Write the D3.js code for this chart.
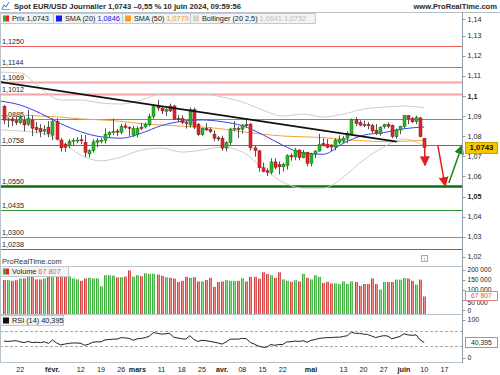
<!DOCTYPE html>
<html>
<head>
<meta charset="utf-8">
<script src="https://cdn.jsdelivr.net/npm/d3@7"></script>
<style>
  body { margin: 0; background: #fff; }
  svg { display: block; font-family: 'Liberation Sans', Arial, sans-serif; }
</style>
</head>
<body>
<div id="chart"></div>
<script>
// daily sessions, index 0 = 16 janv. 2024, index 104 = 10 juin 2024
const open = [
  1.0948, 1.0880, 1.0886, 1.0877, 1.0868, 1.0878, 1.0860, 1.0880, 1.0843, 1.0838,
  1.0825, 1.0845, 1.0805, 1.0872, 1.0781, 1.0760, 1.0752, 1.0775, 1.0780, 1.0782,
  1.0770, 1.0712, 1.0728, 1.0770, 1.0778, 1.0780, 1.0808, 1.0820, 1.0826, 1.0820,
  1.0851, 1.0844, 1.0806, 1.0808, 1.0845, 1.0846, 1.0856, 1.0899, 1.0950, 1.0940,
  1.0924, 1.0950, 1.0950, 1.0887, 1.0888, 1.0868, 1.0856, 1.0932, 1.0860, 1.0808,
  1.0838, 1.0834, 1.0810, 1.0792, 1.0790, 1.0741, 1.0768, 1.0835, 1.0838, 1.0835,
  1.0858, 1.0860, 1.0742, 1.0727, 1.0643, 1.0628, 1.0620, 1.0672, 1.0658, 1.0648,
  1.0654, 1.0703, 1.0697, 1.0731, 1.0694, 1.0720, 1.0665, 1.0712, 1.0726, 1.0764,
  1.0760, 1.0756, 1.0746, 1.0770, 1.0775, 1.0790, 1.0812, 1.0884, 1.0868, 1.0858,
  1.0858, 1.0853, 1.0830, 1.0812, 1.0847, 1.0858, 1.0853, 1.0798, 1.0831, 1.0848,
  1.0902, 1.0888, 1.0872, 1.0891, 1.0789
];
const high = [
  1.0955, 1.0893, 1.0897, 1.0898, 1.0906, 1.0900, 1.0932, 1.0905, 1.0870, 1.0860,
  1.0855, 1.0875, 1.0890, 1.0890, 1.0790, 1.0768, 1.0785, 1.0790, 1.0795, 1.0806,
  1.0806, 1.0735, 1.0785, 1.0790, 1.0790, 1.0839, 1.0825, 1.0888, 1.0835, 1.0860,
  1.0865, 1.0850, 1.0852, 1.0850, 1.0867, 1.0868, 1.0912, 1.0950, 1.0981, 1.0944,
  1.0940, 1.0962, 1.0956, 1.0905, 1.0904, 1.0880, 1.0942, 1.0942, 1.0865, 1.0843,
  1.0865, 1.0844, 1.0828, 1.0801, 1.0803, 1.0775, 1.0842, 1.0876, 1.0850, 1.0860,
  1.0885, 1.0865, 1.0755, 1.0732, 1.0668, 1.0640, 1.0690, 1.0690, 1.0675, 1.0668,
  1.0710, 1.0715, 1.0742, 1.0735, 1.0732, 1.0723, 1.0718, 1.0730, 1.0812, 1.0790,
  1.0785, 1.0760, 1.0790, 1.0805, 1.0800, 1.0825, 1.0888, 1.0895, 1.0880, 1.0878,
  1.0870, 1.0862, 1.0860, 1.0850, 1.0862, 1.0870, 1.0858, 1.0838, 1.0852, 1.0905,
  1.0905, 1.0895, 1.0902, 1.0895, 1.0789
];
const low = [
  1.0860, 1.0844, 1.0850, 1.0855, 1.0860, 1.0825, 1.0851, 1.0800, 1.0815, 1.0795,
  1.0805, 1.0795, 1.0780, 1.0780, 1.0723, 1.0722, 1.0740, 1.0755, 1.0765, 1.0760,
  1.0696, 1.0695, 1.0718, 1.0745, 1.0765, 1.0763, 1.0795, 1.0805, 1.0800, 1.0810,
  1.0835, 1.0800, 1.0795, 1.0795, 1.0830, 1.0838, 1.0850, 1.0885, 1.0926, 1.0910,
  1.0900, 1.0920, 1.0880, 1.0870, 1.0860, 1.0838, 1.0842, 1.0835, 1.0802, 1.0802,
  1.0826, 1.0815, 1.0775, 1.0775, 1.0728, 1.0724, 1.0756, 1.0825, 1.0791, 1.0812,
  1.0843, 1.0728, 1.0698, 1.0623, 1.0620, 1.0601, 1.0610, 1.0635, 1.0610, 1.0624,
  1.0634, 1.0678, 1.0680, 1.0680, 1.0690, 1.0650, 1.0650, 1.0690, 1.0723, 1.0750,
  1.0740, 1.0725, 1.0730, 1.0760, 1.0765, 1.0765, 1.0805, 1.0850, 1.0850, 1.0845,
  1.0835, 1.0815, 1.0805, 1.0803, 1.0838, 1.0840, 1.0790, 1.0788, 1.0810, 1.0840,
  1.0860, 1.0865, 1.0860, 1.0795, 1.0735
];
const close = [
  1.0880, 1.0885, 1.0876, 1.0868, 1.0892, 1.0856, 1.0888, 1.0840, 1.0832, 1.0822,
  1.0834, 1.0812, 1.0872, 1.0785, 1.0742, 1.0745, 1.0775, 1.0779, 1.0781, 1.0780,
  1.0720, 1.0728, 1.0772, 1.0778, 1.0780, 1.0810, 1.0820, 1.0823, 1.0820, 1.0850,
  1.0844, 1.0840, 1.0838, 1.0838, 1.0838, 1.0860, 1.0899, 1.0947, 1.0940, 1.0926,
  1.0932, 1.0926, 1.0885, 1.0884, 1.0868, 1.0862, 1.0932, 1.0845, 1.0808, 1.0838,
  1.0831, 1.0823, 1.0790, 1.0786, 1.0741, 1.0768, 1.0836, 1.0838, 1.0834, 1.0856,
  1.0856, 1.0742, 1.0728, 1.0643, 1.0625, 1.0620, 1.0672, 1.0645, 1.0648, 1.0658,
  1.0703, 1.0697, 1.0731, 1.0694, 1.0720, 1.0665, 1.0712, 1.0726, 1.0758, 1.0752,
  1.0745, 1.0746, 1.0781, 1.0785, 1.0790, 1.0812, 1.0884, 1.0862, 1.0855, 1.0857,
  1.0852, 1.0826, 1.0817, 1.0845, 1.0857, 1.0850, 1.0798, 1.0831, 1.0848, 1.0902,
  1.0886, 1.0872, 1.0893, 1.0798, 1.0743
];
const volume = [
  150000, 149000, 146000, 149000, 158000, 158000, 169000, 169000, 153000, 153000,
  158000, 169000, 169000, 166000, 166000, 169000, 169000, 158000, 153000, 146000,
  158000, 161000, 158000, 158000, 119000, 174000, 174000, 172000, 163000, 164000,
  167000, 198000, 167000, 174000, 169000, 184000, 181000, 181000, 177000, 171000,
  164000, 161000, 157000, 140000, 146000, 166000, 161000, 164000, 143000, 143000,
  150000, 161000, 116000, 140000, 143000, 149000, 146000, 146000, 146000, 158000,
  143000, 166000, 166000, 157000, 189000, 180000, 174000, 161000, 189000, 153000,
  146000, 141000, 149000, 143000, 181000, 161000, 153000, 174000, 166000, 135000,
  141000, 133000, 133000, 130000, 143000, 130000, 143000, 140000, 121000, 130000,
  130000, 158000, 130000, 102000, 140000, 140000, 140000, 152000, 152000, 160000,
  158000, 146000, 127000, 152000, 67807
];
const rsi = [
  44, 43, 44, 45, 42, 40, 43, 40, 41, 40,
  42, 38, 47, 39, 34, 36, 38, 39, 39, 38,
  33, 36, 41, 42, 42, 47, 48, 49, 49, 53,
  52, 51, 46, 50, 51, 53, 57, 66, 64, 62,
  63, 64, 54, 52, 50, 49, 58, 48, 43, 46,
  45, 43, 41, 39, 36, 42, 49, 49, 49, 51,
  50, 40, 36, 31, 28, 28, 35, 33, 35, 35,
  42, 42, 44, 43, 45, 41, 46, 48, 51, 52,
  53, 53, 54, 54, 56, 58, 67, 64, 64, 62,
  61, 57, 53, 56, 58, 57, 50, 53, 56, 63,
  60, 59, 60, 47, 40.395
];

// indicator curves read every 5 sessions (index -1 = session before the first candle)
const curveIdx = [-1, 4, 9, 14, 19, 24, 29, 34, 39, 44, 49, 54, 59, 64, 69, 74, 79, 84, 89, 94, 99, 104];
const sma20 = [1.0975, 1.0955, 1.0914, 1.0863, 1.0822, 1.0797, 1.0790, 1.0815, 1.0853, 1.0874, 1.0881,
  1.0872, 1.0852, 1.0808, 1.0755, 1.0716, 1.0710, 1.0765, 1.0805, 1.0818, 1.0837, 1.0846];
const sma50 = [1.0902, 1.0905, 1.0900, 1.0895, 1.0886, 1.0881, 1.0874, 1.0862, 1.0856, 1.0850, 1.0846,
  1.0836, 1.0822, 1.0810, 1.0801, 1.0797, 1.0793, 1.0783, 1.0777, 1.0773, 1.0775, 1.0779];
const bollUp = [1.1119, 1.1114, 1.1040, 1.0980, 1.0980, 1.0965, 1.0960, 1.0980, 1.1010, 1.1010, 1.1010,
  1.0995, 1.0970, 1.0930, 1.0900, 1.0910, 1.0895, 1.0910, 1.0935, 1.0945, 1.0950, 1.0941];
const bollLow = [1.0831, 1.0826, 1.0816, 1.0776, 1.0706, 1.0677, 1.0697, 1.0731, 1.0741, 1.0721, 1.0731,
  1.0746, 1.0721, 1.0642, 1.0572, 1.0542, 1.0542, 1.0597, 1.0682, 1.0746, 1.0786, 1.0752];

// support / resistance levels
const levels = [1.1250, 1.1144, 1.1069, 1.1012, 1.0885, 1.0758, 1.0550, 1.0435, 1.0300, 1.0238];
const levelKind = ['res', 'res', 'resSoft', 'resSoft', 'res', 'sup', 'supMajor', 'sup', 'supSoft', 'sup'];

// trend line and arrows as [session index, price]
const trendLine = [[-1, 1.1070], [97.2, 1.0773]];
const arrowsDown = [[[104.1, 1.0751], [104.2, 1.0655]], [[107.4, 1.0751], [109.2, 1.0552]]];
const arrowsUp = [[[110.1, 1.0567], [113.4, 1.0755]]];

const tickIdx = [4, 12, 19, 24, 29, 33, 39, 44, 49, 54, 59, 64, 69, 76, 84, 89, 94, 99, 104, 109];
const tickLabels = ['22', 'févr.', '12', '19', '26', 'mars', '11', '18', '25', 'avr.', '08', '15', '22',
  'mai', '13', '20', '27', 'juin', '10', '17'];
const priceTicks = [1.14, 1.13, 1.12, 1.11, 1.10, 1.09, 1.08, 1.07, 1.06, 1.05, 1.04, 1.03, 1.02];
const volTicks = [200000, 150000, 100000, 50000, 0];
const rsiTicks = [100, 0];
const rsiBands = [70, 30];
const changePct = -0.55;

const W = 500, H = 375;
const axisX = 462.5;
const last = close.length - 1;

const fmtP = (v, d) => v.toFixed(d).replace('.', ',');
const fmtAxis = v => String(+v.toFixed(2)).replace('.', ',');
const fmtVol = v => d3.format(',')(v).replace(/,/g, ' ');

const svg = d3.select('#chart').append('svg').attr('width', W).attr('height', H);
const defs = svg.append('defs');

const x = d3.scaleLinear().domain([0, 104]).range([4, 424.2]);
const yP = d3.scaleLinear().domain([1.10, 1.14]).range([96, 15.6]);
const yV = d3.scaleLinear().domain([0, 200000]).range([310, 270]);
const yR = d3.scaleLinear().domain([0, 100]).range([358, 319.5]);
const px = i => Math.round(x(i));

function clip(id, y0, y1) {
  defs.append('clipPath').attr('id', id)
    .append('rect').attr('x', 1).attr('y', y0).attr('width', axisX - 1).attr('height', y1 - y0);
}
clip('cPrice', 12.5, 266);
clip('cVol', 266.5, 314);
clip('cRsi', 314.5, 362);

function gradient(id, stops) {
  const g = defs.append('linearGradient').attr('id', id);
  stops.forEach((c, k) => g.append('stop').attr('offset', k / (stops.length - 1)).attr('stop-color', c));
}
gradient('gUp', ['#1e8c1e', '#86e486', '#33ad33']);
gradient('gDn', ['#b71d1d', '#f49090', '#d63838']);

function marker(id, color) {
  defs.append('marker').attr('id', id)
    .attr('viewBox', '0 -5 10 10').attr('refX', 9).attr('refY', 0)
    .attr('markerUnits', 'userSpaceOnUse').attr('markerWidth', 10).attr('markerHeight', 10)
    .attr('orient', 'auto')
    .append('path').attr('d', 'M0,-5L10,0L0,5Z').attr('fill', color);
}
marker('hRed', '#e41c1c');
marker('hGreen', '#17871a');

// ---------- price pane ----------
const gP = svg.append('g').attr('clip-path', 'url(#cPrice)');

const levelStyle = {
  res: {stroke: '#ee5a5a', width: 1},
  resSoft: {stroke: '#f6a4a4', width: 2},
  sup: {stroke: '#2f9a2f', width: 1},
  supMajor: {stroke: '#0b700b', width: 2.5},
  supSoft: {stroke: '#5cb35c', width: 1}
};

levels.forEach((lv, k) => {
  const st = levelStyle[levelKind[k]];
  const y = Math.round(yP(lv)) + 0.5;
  gP.append('line')
    .attr('x1', 0).attr('x2', axisX).attr('y1', y).attr('y2', y)
    .attr('stroke', st.stroke).attr('stroke-width', st.width);
  gP.append('text')
    .attr('x', 2).attr('y', y - 3)
    .attr('font-size', 7.2).attr('fill', '#222')
    .text(fmtP(lv, 4));
});

const curveLine = d3.line()
  .x(d => x(d[0])).y(d => yP(d[1]))
  .curve(d3.curveMonotoneX);
const zip = arr => curveIdx.map((i, k) => [i, arr[k]]);

[[bollUp, '#cccccc'], [bollLow, '#cccccc'], [sma50, '#f6a23a'], [sma20, '#3344ee']].forEach(s => {
  gP.append('path')
    .attr('d', curveLine(zip(s[0])))
    .attr('fill', 'none').attr('stroke', s[1]).attr('stroke-width', 1);
});

const idx = d3.range(close.length);
const isUp = i => close[i] >= open[i];

const candles = gP.append('g').selectAll('g').data(idx).join('g');
candles.append('line')
  .attr('x1', i => px(i) + 0.5).attr('x2', i => px(i) + 0.5)
  .attr('y1', i => yP(high[i])).attr('y2', i => yP(low[i]))
  .attr('stroke', '#555').attr('stroke-width', 1);
candles.append('rect')
  .attr('x', i => px(i) - 1)
  .attr('width', 3)
  .attr('y', i => yP(Math.max(open[i], close[i])))
  .attr('height', i => Math.max(1, Math.abs(yP(open[i]) - yP(close[i]))))
  .attr('fill', i => isUp(i) ? '#2bb52b' : '#e3232a')
  .attr('stroke', i => isUp(i) ? '#176f17' : '#8e1414')
  .attr('stroke-width', 0.5);

gP.append('path')
  .attr('d', d3.line().x(d => x(d[0])).y(d => yP(d[1]))(trendLine))
  .attr('stroke', '#111').attr('stroke-width', 1.6).attr('fill', 'none');

svg.append('g').selectAll('path').data(arrowsDown).join('path')
  .attr('d', d => d3.line().x(p => x(p[0])).y(p => yP(p[1]))(d))
  .attr('stroke', '#e41c1c').attr('stroke-width', 1.5).attr('fill', 'none')
  .attr('marker-end', 'url(#hRed)');
svg.append('g').selectAll('path').data(arrowsUp).join('path')
  .attr('d', d => d3.line().x(p => x(p[0])).y(p => yP(p[1]))(d))
  .attr('stroke', '#17871a').attr('stroke-width', 1.5).attr('fill', 'none')
  .attr('marker-end', 'url(#hGreen)');

svg.append('text')
  .attr('x', 2).attr('y', 264)
  .attr('font-size', 7.5).attr('fill', '#333')
  .text('ProRealTime.com');
svg.append('rect')
  .attr('x', 421.5).attr('y', 255.5).attr('width', 6).attr('height', 6)
  .attr('fill', '#fff').attr('stroke', '#aaa');
svg.append('text')
  .attr('x', 424.5).attr('y', 260.5).attr('text-anchor', 'middle')
  .attr('font-size', 5).attr('fill', '#888').text('i');

// ---------- volume pane ----------
const gV = svg.append('g').attr('clip-path', 'url(#cVol)');
gV.selectAll('rect').data(idx).join('rect')
  .attr('x', i => px(i) - 1)
  .attr('width', 3)
  .attr('y', i => yV(volume[i]))
  .attr('height', i => 314 - yV(volume[i]))
  .attr('fill', i => isUp(i) ? 'url(#gUp)' : 'url(#gDn)');

// ---------- RSI pane ----------
const gR = svg.append('g').attr('clip-path', 'url(#cRsi)');
rsiBands.forEach(v => {
  gR.append('line')
    .attr('x1', 0).attr('x2', axisX)
    .attr('y1', Math.round(yR(v)) + 0.5).attr('y2', Math.round(yR(v)) + 0.5)
    .attr('stroke', '#aaa').attr('stroke-dasharray', '3,2');
});
gR.append('path')
  .attr('d', d3.line().x((d, i) => x(i)).y(d => yR(d))(rsi))
  .attr('fill', 'none').attr('stroke', '#222').attr('stroke-width', 1);

// ---------- frames ----------
const frame = svg.append('g').attr('stroke', '#b7c1c9').attr('shape-rendering', 'crispEdges');
frame.append('line').attr('x1', 0).attr('x2', W).attr('y1', 12.5).attr('y2', 12.5);
[266.5, 314.5, 362.5].forEach(y => {
  frame.append('line').attr('x1', 0).attr('x2', axisX).attr('y1', y).attr('y2', y);
});
frame.append('line').attr('x1', 0.5).attr('x2', 0.5).attr('y1', 12).attr('y2', 363);
frame.append('line').attr('x1', axisX).attr('x2', axisX).attr('y1', 12).attr('y2', 363)
  .attr('stroke', '#8f9ba5');

// ---------- right axes ----------
const gA = svg.append('g').attr('fill', '#222');
function axisLabel(y, txt, opt) {
  const o = opt || {};
  gA.append('line').attr('x1', axisX).attr('x2', axisX + 3).attr('y1', Math.round(y) + 0.5).attr('y2', Math.round(y) + 0.5)
    .attr('stroke', '#8f9ba5');
  gA.append('text').attr('x', axisX + 5).attr('y', y + (o.shift || 0)).attr('dy', '0.35em')
    .attr('font-size', o.size || 7.2)
    .attr('font-weight', o.bold ? 'bold' : null).text(txt);
}
priceTicks.forEach(v => axisLabel(Math.max(19, yP(v)), fmtAxis(v), {bold: Math.abs(v * 100 % 5) < 1e-6}));
// the 50 000 label sits just under the live volume badge, as in the original
volTicks.forEach(v => axisLabel(yV(v), fmtVol(v), {size: 6.6, shift: v === 50000 ? 3 : (v === 0 ? 0.5 : 0)}));
rsiTicks.forEach(v => axisLabel(yR(v), String(v), {size: 7}));

function badge(y, txt, fill, stroke, color, bold, h) {
  const g = svg.append('g');
  const bh = h || 10;
  g.append('rect').attr('x', 465.5).attr('y', Math.round(y - bh / 2) + 0.5).attr('width', 32).attr('height', bh)
    .attr('fill', fill).attr('stroke', stroke);
  g.append('text').attr('x', 481.5).attr('y', y).attr('dy', '0.35em').attr('text-anchor', 'middle')
    .attr('font-size', bold ? 7.8 : 6.8).attr('font-weight', bold ? 'bold' : null).attr('fill', color).text(txt);
}
badge(yP(close[last]), fmtP(close[last], 4), '#f6c700', '#caa000', '#111', true, 11);
badge(yV(volume[last]) - 1, fmtVol(volume[last]), '#fff', '#e88080', '#e05050', false, 9);
badge(yR(rsi[last]), fmtP(rsi[last], 3), '#fff', '#999', '#222', false, 10);

// ---------- x axis ----------
svg.append('g').selectAll('text').data(tickIdx).join('text')
  .attr('x', i => x(i)).attr('y', 371.5)
  .attr('text-anchor', 'middle').attr('font-size', 7.2).attr('fill', '#222')
  .attr('font-weight', (d, k) => isNaN(+tickLabels[k]) ? 'bold' : null)
  .text((d, k) => tickLabels[k]);

// ---------- headers and legends ----------
const icon = svg.append('g').attr('fill', 'none').attr('stroke', '#3d74d6').attr('stroke-width', 1);
icon.append('polyline').attr('points', '2,9 4,5 6,7 9,2');
icon.append('line').attr('x1', 2).attr('x2', 10).attr('y1', 9.5).attr('y2', 9.5).attr('stroke', '#7aa0e0');

svg.append('text')
  .attr('x', 14).attr('y', 9)
  .attr('font-size', 7.6).attr('font-weight', 'bold').attr('fill', '#2a2a2a')
  .attr('textLength', 227).attr('lengthAdjust', 'spacingAndGlyphs')
  .text('Spot EUR/USD Journalier ' + fmtP(close[last], 4) + ' –' + fmtP(Math.abs(changePct), 2) + ' % 10 juin 2024, 09:59:56');
svg.append('text')
  .attr('x', 497).attr('y', 9).attr('text-anchor', 'end')
  .attr('font-size', 7.6).attr('font-weight', 'bold').attr('fill', '#2a2a2a')
  .text('www.ProRealTime.com');

function legend(x0, y0, w, drawIcon, parts) {
  const g = svg.append('g');
  g.append('rect').attr('x', x0 + 0.5).attr('y', y0 + 0.5).attr('width', w).attr('height', 10)
    .attr('fill', '#f1f3f4').attr('stroke', '#c3c9ce');
  drawIcon(g, x0 + 3, y0 + 2.5);
  const t = g.append('text').attr('x', x0 + 12).attr('y', y0 + 8.3).attr('font-size', 7.3);
  parts.forEach((p, k) => t.append('tspan').attr('fill', p[1]).text((k ? ' ' : '') + p[0]));
}
const square = c => (g, x0, y0) => g.append('rect').attr('x', x0).attr('y', y0).attr('width', 6).attr('height', 6).attr('fill', c);
const redGreen = (g, x0, y0) => {
  g.append('rect').attr('x', x0).attr('y', y0).attr('width', 3).attr('height', 6).attr('fill', '#2bb52b');
  g.append('rect').attr('x', x0 + 3).attr('y', y0).attr('width', 3).attr('height', 6).attr('fill', '#e3232a');
};

legend(0, 13, 53, redGreen, [['Prix', '#222'], [fmtP(close[last], 4), '#222']]);
legend(53, 13, 69, square('#1a1aff'), [['SMA (20)', '#222'], [fmtP(sma20[sma20.length - 1], 4), '#2020e6']]);
legend(122, 13, 68, square('#ff9a1a'), [['SMA (50)', '#222'], [fmtP(sma50[sma50.length - 1], 4), '#f29a2e']]);
legend(190, 13, 125, square('#d4d4d4'), [['Bollinger (20 2,5)', '#222'],
  [fmtP(bollUp[bollUp.length - 1], 4) + ' ' + fmtP(bollLow[bollLow.length - 1], 4), '#bdbdbd']]);
legend(0, 266, 68, redGreen, [['Volume', '#222'], [fmtVol(volume[last]), '#e86060']]);
legend(0, 315, 63, square('#111'), [['RSI (14)', '#222'], [fmtP(rsi[last], 3), '#222']]);
</script>
</body>
</html>
